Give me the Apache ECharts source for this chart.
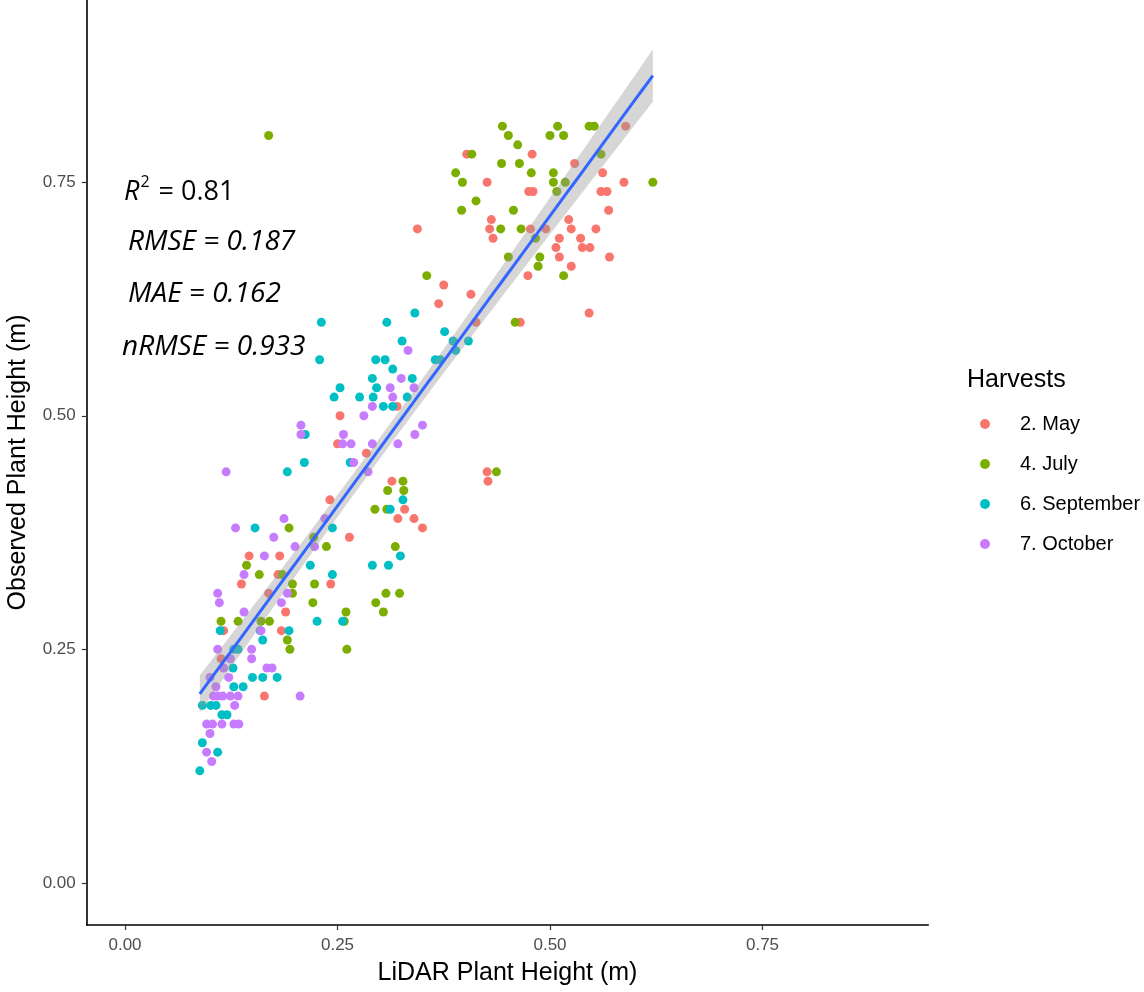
<!DOCTYPE html>
<html>
<head>
<meta charset="utf-8">
<script src="https://cdn.jsdelivr.net/npm/echarts@6/dist/echarts.min.js"></script>
<style>
  html, body { margin: 0; padding: 0; background: #ffffff; }
  #chart { width: 1144px; height: 992px; }
</style>
</head>
<body>
<div id="chart"></div>
<script>
// Harvest groups and their colours
const harvests = ['2. May', '4. July', '6. September', '7. October'];
const harvestColors = ['#F8766D', '#7CAE00', '#00BFC4', '#C77CFF'];

// [LiDAR height (m), observed height (m)] per harvest
const mayPoints = [
  [0.344,0.70],[0.589,0.81],[0.402,0.78],[0.479,0.78],[0.529,0.77],[0.562,0.76],[0.426,0.75],[0.587,0.75],
  [0.475,0.74],[0.480,0.74],[0.560,0.74],[0.567,0.74],[0.569,0.72],[0.431,0.71],[0.522,0.71],[0.429,0.70],
  [0.477,0.70],[0.495,0.70],[0.525,0.70],[0.554,0.70],[0.433,0.69],[0.511,0.69],[0.536,0.69],[0.507,0.68],
  [0.538,0.68],[0.547,0.68],[0.511,0.67],[0.570,0.67],[0.525,0.66],[0.474,0.65],[0.375,0.64],[0.407,0.63],
  [0.369,0.62],[0.546,0.61],[0.413,0.60],[0.465,0.60],[0.320,0.51],[0.253,0.50],[0.250,0.47],[0.284,0.46],
  [0.426,0.44],[0.427,0.43],[0.314,0.43],[0.241,0.41],[0.329,0.40],[0.321,0.39],[0.340,0.39],[0.350,0.38],
  [0.264,0.37],[0.146,0.35],[0.182,0.35],[0.180,0.33],[0.137,0.32],[0.242,0.32],[0.169,0.31],[0.189,0.29],
  [0.116,0.27],[0.184,0.27],[0.113,0.24],[0.164,0.20]
];
const julyPoints = [
  [0.169,0.80],[0.444,0.81],[0.509,0.81],[0.546,0.81],[0.552,0.81],[0.451,0.80],[0.500,0.80],[0.516,0.80],
  [0.462,0.79],[0.408,0.78],[0.560,0.78],[0.443,0.77],[0.464,0.77],[0.389,0.76],[0.478,0.76],[0.504,0.76],
  [0.397,0.75],[0.504,0.75],[0.518,0.75],[0.621,0.75],[0.508,0.74],[0.413,0.73],[0.396,0.72],[0.457,0.72],
  [0.442,0.70],[0.466,0.70],[0.483,0.69],[0.451,0.67],[0.488,0.67],[0.486,0.66],[0.355,0.65],[0.516,0.65],
  [0.459,0.60],[0.437,0.44],[0.327,0.43],[0.309,0.42],[0.328,0.42],[0.294,0.40],[0.308,0.40],[0.193,0.38],
  [0.222,0.37],[0.237,0.36],[0.318,0.36],[0.143,0.34],[0.158,0.33],[0.185,0.33],[0.197,0.32],[0.223,0.32],
  [0.197,0.31],[0.307,0.31],[0.323,0.31],[0.221,0.30],[0.295,0.30],[0.260,0.29],[0.304,0.29],[0.113,0.28],
  [0.133,0.28],[0.160,0.28],[0.170,0.28],[0.258,0.28],[0.191,0.26],[0.194,0.25],[0.261,0.25]
];
const septemberPoints = [
  [0.231,0.60],[0.308,0.60],[0.341,0.61],[0.376,0.59],[0.326,0.58],[0.386,0.58],[0.404,0.58],[0.389,0.57],
  [0.229,0.56],[0.295,0.56],[0.306,0.56],[0.365,0.56],[0.371,0.56],[0.315,0.55],[0.291,0.54],[0.338,0.54],
  [0.253,0.53],[0.296,0.53],[0.246,0.52],[0.276,0.52],[0.292,0.52],[0.332,0.52],[0.304,0.51],[0.315,0.51],
  [0.212,0.48],[0.265,0.45],[0.211,0.45],[0.191,0.44],[0.327,0.41],[0.312,0.40],[0.153,0.38],[0.244,0.38],
  [0.324,0.35],[0.218,0.34],[0.291,0.34],[0.310,0.34],[0.244,0.33],[0.226,0.28],[0.256,0.28],[0.112,0.27],
  [0.159,0.27],[0.193,0.27],[0.162,0.26],[0.128,0.25],[0.133,0.25],[0.127,0.23],[0.150,0.22],[0.162,0.22],
  [0.179,0.22],[0.128,0.21],[0.139,0.21],[0.091,0.19],[0.101,0.19],[0.107,0.19],[0.114,0.18],[0.120,0.18],
  [0.091,0.15],[0.109,0.14],[0.088,0.12]
];
const octoberPoints = [
  [0.333,0.57],[0.325,0.54],[0.312,0.53],[0.340,0.53],[0.315,0.52],[0.291,0.51],[0.281,0.50],[0.207,0.49],
  [0.350,0.49],[0.207,0.48],[0.257,0.48],[0.341,0.48],[0.256,0.47],[0.266,0.47],[0.291,0.47],[0.321,0.47],
  [0.269,0.45],[0.119,0.44],[0.286,0.44],[0.187,0.39],[0.235,0.39],[0.130,0.38],[0.175,0.37],[0.200,0.36],
  [0.223,0.36],[0.164,0.35],[0.140,0.33],[0.109,0.31],[0.191,0.31],[0.111,0.30],[0.184,0.30],[0.140,0.29],
  [0.160,0.27],[0.109,0.25],[0.149,0.25],[0.124,0.24],[0.149,0.24],[0.116,0.23],[0.167,0.23],[0.173,0.23],
  [0.100,0.22],[0.122,0.22],[0.107,0.21],[0.104,0.20],[0.109,0.20],[0.115,0.20],[0.124,0.20],[0.133,0.20],
  [0.206,0.20],[0.129,0.19],[0.096,0.17],[0.103,0.17],[0.114,0.17],[0.128,0.17],[0.134,0.17],[0.100,0.16],
  [0.096,0.14],[0.102,0.13]
];

// Axis ticks and fit statistics shown in the panel
const xTickValues = [0, 0.25, 0.5, 0.75];
const yTickValues = [0, 0.25, 0.5, 0.75];
const statR2 = '0.81';
const statRMSE = '0.187';
const statMAE = '0.162';
const statNRMSE = '0.933';

const groups = [mayPoints, julyPoints, septemberPoints, octoberPoints];

// Ordinary least squares fit with a 95% confidence band
const allPoints = groups.flat();
const n = allPoints.length;
const xMean = allPoints.reduce((s, p) => s + p[0], 0) / n;
const yMean = allPoints.reduce((s, p) => s + p[1], 0) / n;
let sxx = 0, sxy = 0;
allPoints.forEach(p => { sxx += (p[0] - xMean) ** 2; sxy += (p[0] - xMean) * (p[1] - yMean); });
const slope = sxy / sxx;
const intercept = yMean - slope * xMean;
let sse = 0;
allPoints.forEach(p => { sse += (p[1] - intercept - slope * p[0]) ** 2; });
const sigma = Math.sqrt(sse / (n - 2));
const tCrit = 1.968;
const xLo = Math.min(...allPoints.map(p => p[0]));
const xHi = Math.max(...allPoints.map(p => p[0]));
const fitLine = [], bandUpper = [], bandLower = [];
for (let i = 0; i <= 80; i++) {
  const x = xLo + (xHi - xLo) * i / 80;
  const yHat = intercept + slope * x;
  const se = sigma * Math.sqrt(1 / n + (x - xMean) ** 2 / sxx);
  fitLine.push([x, yHat]);
  bandUpper.push([x, yHat + tCrit * se]);
  bandLower.push([x, yHat - tCrit * se]);
}

const fmt2 = v => v.toFixed(2);
const sans = 'Liberation Sans, Arial, sans-serif';
const noteFont = 'Open Sans, sans-serif';

const chart = echarts.init(document.getElementById('chart'), null, { renderer: 'canvas' });

const scatterSeries = groups.map((pts, i) => ({
  name: harvests[i],
  type: 'scatter',
  data: pts,
  symbol: 'circle',
  symbolSize: 9,
  itemStyle: { color: harvestColors[i], opacity: 1 },
  z: 2,
  silent: true
}));

const option = {
  animation: false,
  backgroundColor: '#ffffff',
  grid: { left: 86.75, right: 215.75, top: 0, bottom: 67, containLabel: false, outerBoundsMode: 'none' },
  xAxis: {
    type: 'value',
    min: -0.045,
    max: 0.945,
    name: 'LiDAR Plant Height (m)',
    nameLocation: 'middle',
    nameGap: 36,
    nameTextStyle: { fontFamily: sans, fontSize: 25, color: '#000000' },
    axisLine: { show: true, onZero: false, lineStyle: { color: '#000000', width: 1.6 } },
    axisTick: { show: true, customValues: xTickValues, length: 5, lineStyle: { color: '#333333', width: 1.2 } },
    axisLabel: { customValues: xTickValues, formatter: fmt2, fontFamily: sans, fontSize: 17, color: '#4D4D4D', margin: 12 },
    splitLine: { show: false }
  },
  yAxis: {
    type: 'value',
    min: -0.045,
    max: 0.945,
    name: 'Observed Plant Height (m)',
    nameLocation: 'middle',
    nameGap: 56,
    nameTextStyle: { fontFamily: sans, fontSize: 25, color: '#000000' },
    axisLine: { show: true, onZero: false, lineStyle: { color: '#000000', width: 1.6 } },
    axisTick: { show: true, customValues: yTickValues, length: 5, lineStyle: { color: '#333333', width: 1.2 } },
    axisLabel: { customValues: yTickValues, formatter: fmt2, fontFamily: sans, fontSize: 17, color: '#4D4D4D', margin: 11 },
    splitLine: { show: false }
  },
  legend: {
    data: harvests,
    orient: 'vertical',
    left: 975,
    top: 408,
    icon: 'circle',
    itemWidth: 10,
    itemHeight: 10,
    itemGap: 18,
    textStyle: { fontFamily: sans, fontSize: 20, color: '#000000', padding: [0, 0, 0, 25], lineHeight: 22 },
    selectedMode: false
  },
  graphic: [
    { type: 'text', left: 967, top: 368, style: { text: 'Harvests', font: '25px ' + sans, fill: '#000000' } },
    { type: 'text', x: 124, y: 192, style: {
        text: '{i|R}{s|2}{n| = ' + statR2 + '}',
        verticalAlign: 'middle',
        rich: {
          i: { fontFamily: noteFont, fontStyle: 'italic', fontSize: 27, lineHeight: 36, fill: '#000' },
          s: { fontFamily: noteFont, fontSize: 16, lineHeight: 36, verticalAlign: 'top', padding: [0, 2, 0, 1], fill: '#000' },
          n: { fontFamily: noteFont, fontSize: 27, lineHeight: 36, fill: '#000' }
        } } },
    { type: 'text', x: 128, y: 242, style: { text: 'RMSE = ' + statRMSE, verticalAlign: 'middle', font: 'italic 28px ' + noteFont, fill: '#000' } },
    { type: 'text', x: 128, y: 294, style: { text: 'MAE = ' + statMAE, verticalAlign: 'middle', font: 'italic 28px ' + noteFont, fill: '#000' } },
    { type: 'text', x: 122, y: 347, style: { text: 'nRMSE = ' + statNRMSE, verticalAlign: 'middle', font: 'italic 28px ' + noteFont, fill: '#000' } }
  ],
  series: scatterSeries.concat([
    {
      type: 'custom',
      silent: true,
      z: 3,
      data: [[xLo, intercept + slope * xLo]],
      renderItem: (params, api) => {
        const pts = bandUpper.map(p => api.coord(p)).concat(bandLower.slice().reverse().map(p => api.coord(p)));
        return { type: 'polygon', shape: { points: pts }, style: { fill: 'rgba(153,153,153,0.4)' } };
      }
    },
    {
      type: 'line',
      silent: true,
      z: 4,
      data: fitLine,
      showSymbol: false,
      lineStyle: { color: '#3366FF', width: 3 }
    }
  ])
};

chart.setOption(option);
</script>
</body>
</html>
